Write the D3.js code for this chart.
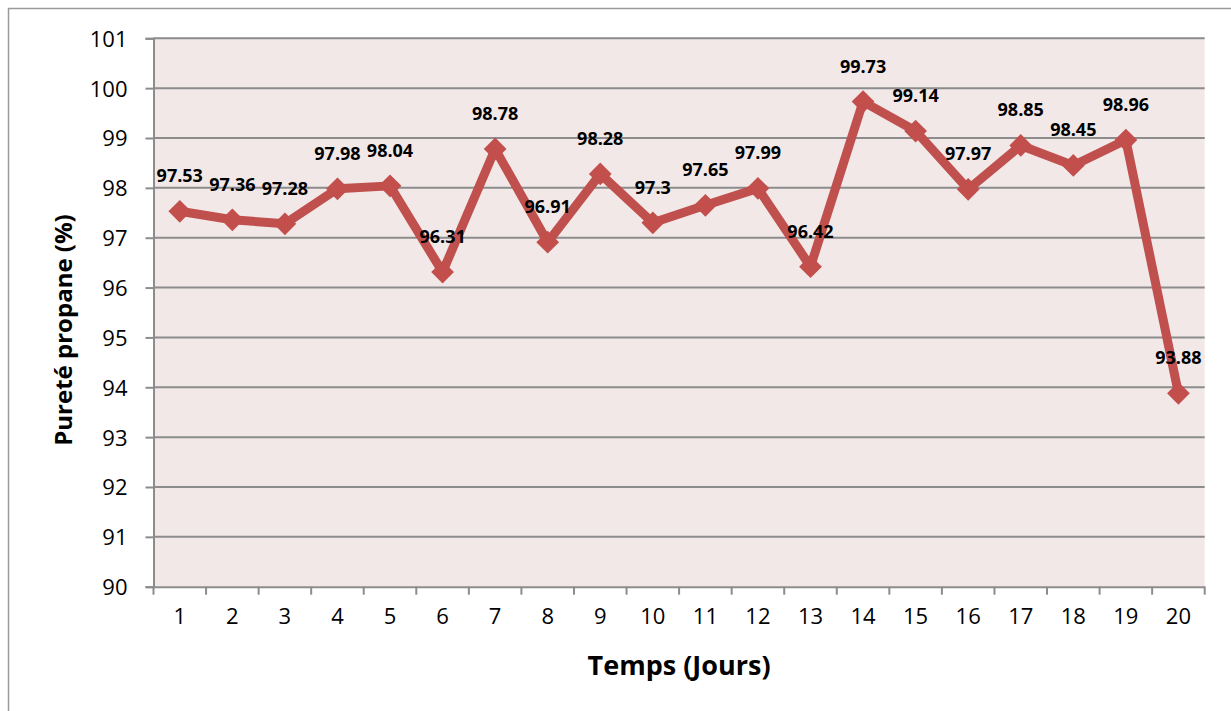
<!DOCTYPE html>
<html>
<head>
<meta charset="utf-8">
<script src="https://cdn.jsdelivr.net/npm/d3@7"></script>
<style>
    body { margin: 0; background: #fff; }
    svg text { font-family: "Open Sans", sans-serif; fill: #000; }
</style>
</head>
<body>
<div id="chart"></div>
<script>
// data
var days = ["1", "2", "3", "4", "5", "6", "7", "8", "9", "10",
    "11", "12", "13", "14", "15", "16", "17", "18", "19", "20"];
var purity = [97.53, 97.36, 97.28, 97.98, 98.04, 96.31, 98.78, 96.91, 98.28, 97.3,
    97.65, 97.99, 96.42, 99.73, 99.14, 97.97, 98.85, 98.45, 98.96, 93.88];
var yTicks = [90, 91, 92, 93, 94, 95, 96, 97, 98, 99, 100, 101];

// SVG
var svgWidth = 1231;
var svgHeight = 711;

var margin = { top: 38.3, right: 26.3, bottom: 124.3, left: 153.5 };
var width = svgWidth - margin.left - margin.right;
var height = svgHeight - margin.top - margin.bottom;

var red = "#C0504D";
var gridColor = "#8c8c8c";

var svg = d3.select("#chart")
    .append("svg")
    .attr("width", svgWidth)
    .attr("height", svgHeight);

// outer frame
svg.append("rect")
    .attr("x", 8.5)
    .attr("y", 8.5)
    .attr("width", svgWidth + 20)
    .attr("height", svgHeight + 20)
    .attr("fill", "none")
    .attr("stroke", "#9a9a9a")
    .attr("stroke-width", 1.5);

var g = svg.append("g")
    .attr("transform", `translate(${margin.left}, ${margin.top})`);

// scales
var xScale = d3.scaleBand()
    .domain(days)
    .range([0, width]);

var yScale = d3.scaleLinear()
    .domain([90, 101])
    .range([height, 0]);

// plot background
g.append("rect")
    .attr("width", width)
    .attr("height", height)
    .attr("fill", "#F2E8E8");

// gridlines
g.selectAll(".grid")
    .data(yTicks.slice(1))
    .enter()
    .append("line")
    .attr("x1", 0)
    .attr("x2", width)
    .attr("y1", d => yScale(d))
    .attr("y2", d => yScale(d))
    .attr("stroke", gridColor)
    .attr("stroke-width", 2);

// Y-Axis
var leftAxis = d3.axisLeft(yScale)
    .tickValues(yTicks)
    .tickSize(8)
    .tickPadding(18)
    .tickFormat(d3.format("d"));
var axisY = g.append("g").call(leftAxis);
axisY.select(".domain").attr("stroke", gridColor).attr("stroke-width", 2);
axisY.selectAll(".tick line").attr("stroke", gridColor).attr("stroke-width", 2);
axisY.selectAll("text")
    .style("font-size", "22px")
    .attr("dy", "0.36em");

// X-Axis
var bottomAxis = d3.axisBottom(xScale)
    .tickSize(0)
    .tickPadding(22);
var axisX = g.append("g")
    .attr("transform", `translate(0, ${height})`)
    .call(bottomAxis);
axisX.select(".domain").attr("stroke", gridColor).attr("stroke-width", 2);
axisX.selectAll("text").style("font-size", "22px");

// category separators on x axis
axisX.selectAll(".sep")
    .data(days.concat(["end"]))
    .enter()
    .append("line")
    .attr("x1", (d, i) => i * xScale.bandwidth())
    .attr("x2", (d, i) => i * xScale.bandwidth())
    .attr("y1", 0)
    .attr("y2", 8)
    .attr("stroke", gridColor)
    .attr("stroke-width", 2);

// line
var line = d3.line()
    .x((d, i) => xScale(days[i]) + xScale.bandwidth() / 2)
    .y(d => yScale(d));

g.append("path")
    .datum(purity)
    .attr("d", line)
    .attr("fill", "none")
    .attr("stroke", red)
    .attr("stroke-width", 9)
    .attr("stroke-linejoin", "round");

// markers (diamonds)
g.selectAll(".marker")
    .data(purity)
    .enter()
    .append("path")
    .attr("d", d3.symbol().type(d3.symbolDiamond2).size(330))
    .attr("transform", (d, i) => `translate(${xScale(days[i]) + xScale.bandwidth() / 2}, ${yScale(d)})`)
    .attr("fill", "#C24F4C");

// data labels
g.selectAll(".label")
    .data(purity)
    .enter()
    .append("text")
    .attr("x", (d, i) => xScale(days[i]) + xScale.bandwidth() / 2)
    .attr("y", d => yScale(d) - 29)
    .attr("text-anchor", "middle")
    .style("font-size", "18px")
    .style("font-weight", "bold")
    .text(d => d);

// axis titles
svg.append("text")
    .attr("x", margin.left + width / 2)
    .attr("y", 675)
    .attr("text-anchor", "middle")
    .style("font-size", "27px")
    .style("font-weight", "bold")
    .text("Temps (Jours)");

svg.append("text")
    .attr("transform", `translate(72, ${330}) rotate(-90)`)
    .attr("text-anchor", "middle")
    .style("font-size", "24px")
    .style("font-weight", "bold")
    .text("Pureté propane (%)");
</script>
</body>
</html>
